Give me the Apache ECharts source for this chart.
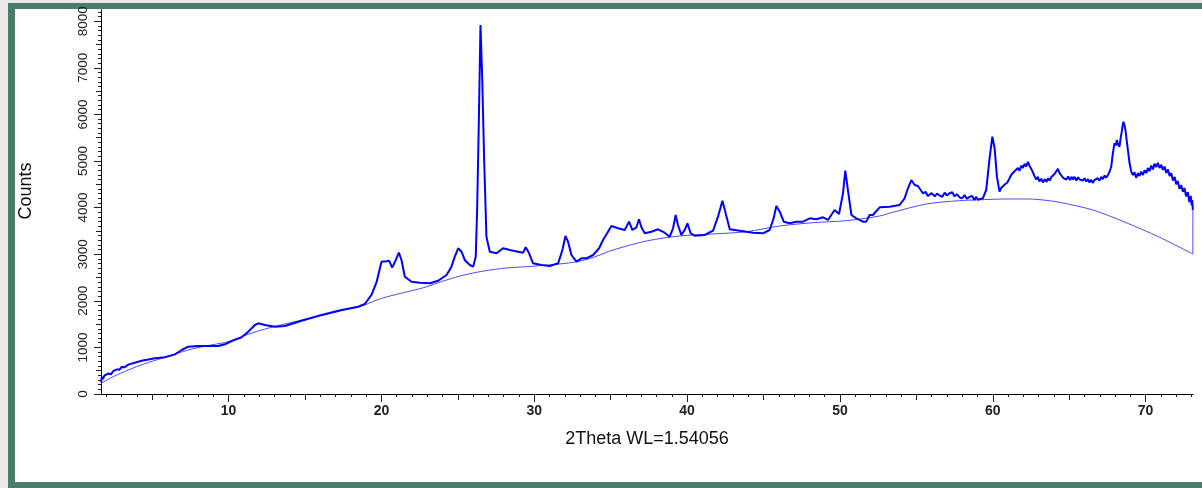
<!DOCTYPE html>
<html>
<head>
<meta charset="utf-8">
<title>XRD pattern</title>
<script src="https://cdn.jsdelivr.net/npm/echarts@6/dist/echarts.min.js"></script>
<style>
    html, body {
        margin: 0;
        padding: 0;
        width: 1202px;
        height: 488px;
        overflow: hidden;
        background: #ebe8e5;
    }
    .frame {
        position: absolute;
        left: 8px;
        top: 3px;
        width: 1194px;
        height: 485px;
        box-sizing: border-box;
        border-left: 7px solid #4a7c69;
        border-top: 6px solid #4a7c69;
        border-bottom: 6px solid #4a7c69;
        background: #ffffff;
    }
    #chart {
        position: absolute;
        left: 0;
        top: 0;
        width: 1202px;
        height: 488px;
    }
</style>
</head>
<body>
<div class="frame"></div>
<div id="chart"></div>
<script>
// measured scan (2theta, counts)
const scanTheta = [
    1.66, 1.7, 1.78, 1.88, 2.0, 2.15, 2.3, 2.45, 2.56, 2.7, 2.85, 3.0, 3.2, 3.43, 4.31, 5.18, 5.83,
    6.49, 6.93, 7.36, 8.01, 8.67, 9.32, 9.76,
    10.2, 10.85, 11.28, 11.72, 11.94, 12.37, 13.03, 13.68, 14.77, 16.08, 17.39, 18.48, 18.91, 19.35,
    19.68, 20.0, 20.33, 20.5, 20.7, 20.94, 21.14, 21.31, 21.53, 21.97, 22.51, 23.17, 23.71, 24.26,
    24.58, 24.8, 25.02, 25.24, 25.45, 25.78, 26.0, 26.17, 26.26, 26.37, 26.48, 26.59, 26.72, 26.87,
    27.09, 27.53, 27.96, 28.4, 28.94, 29.27, 29.44, 29.66, 29.92, 30.47, 31.01, 31.56, 31.84, 32.04,
    32.21, 32.43, 32.76, 33.09, 33.41, 33.85, 34.24, 34.5, 35.05, 35.48, 35.92, 36.2, 36.42, 36.68,
    36.85, 37.01, 37.23, 37.66, 38.1, 38.53, 38.86, 39.08, 39.25, 39.4, 39.62, 39.84, 40.02, 40.23,
    40.5, 41.15, 41.7, 42.02, 42.31, 42.52, 42.79, 43.44, 44.31, 44.96, 45.4, 45.66, 45.84, 46.06,
    46.32, 46.71, 47.15, 47.58, 48.02, 48.46, 48.89, 49.22, 49.65, 49.94, 50.2, 50.35, 50.52, 50.75,
    51.07, 51.5, 51.72, 51.94, 52.16, 52.6, 53.25, 53.9, 54.23, 54.45, 54.67, 54.89, 55.1,
    55.43, 55.6, 55.75, 55.87, 56.0, 56.2, 56.35, 56.52, 56.7, 56.85, 57.0, 57.17, 57.35, 57.5,
    57.65, 57.83, 58.0, 58.15, 58.3, 58.48, 58.65, 58.8, 58.9, 59.03, 59.15, 59.35, 59.57, 59.79,
    59.97, 60.12, 60.27, 60.44, 60.55, 60.66, 60.8, 60.95, 61.1, 61.2, 61.3, 61.42, 61.54, 61.65,
    61.75, 61.87, 61.97, 62.08, 62.18, 62.3, 62.4, 62.52, 62.62, 62.72, 62.85, 62.95, 63.05, 63.17,
    63.28, 63.4, 63.52, 63.62, 63.72, 63.85, 63.95, 64.04, 64.15, 64.26, 64.37, 64.48, 64.6, 64.7,
    64.81, 64.93, 65.05, 65.15, 65.25, 65.35, 65.47, 65.58, 65.7, 65.8, 65.89, 66.0, 66.12, 66.22,
    66.33, 66.43, 66.54, 66.65, 66.76, 66.87, 66.98, 67.1, 67.2, 67.32, 67.42, 67.53, 67.63, 67.75,
    67.85, 67.96, 68.04, 68.12, 68.2, 68.29, 68.37, 68.44, 68.5, 68.55, 68.62, 68.68, 68.76, 68.84,
    68.95, 69.06, 69.17, 69.27, 69.38, 69.5, 69.6, 69.71, 69.82, 69.93, 70.04, 70.15, 70.26, 70.37,
    70.48, 70.58, 70.69, 70.8, 70.91, 71.02, 71.13, 71.24, 71.35, 71.46, 71.57, 71.68, 71.79, 71.9,
    72.0, 72.1, 72.22, 72.33, 72.44, 72.54, 72.65, 72.76, 72.86, 72.95, 73.02, 73.05, 73.09
];
const scanCounts = [
    250, 370, 320, 400, 370, 440, 420, 490, 470, 530, 520, 580, 575, 630, 715, 766, 787,
    851, 944, 1015, 1030, 1030, 1030, 1066,
    1137, 1216, 1337, 1481, 1517, 1481, 1444, 1459, 1573, 1695, 1803, 1873, 1931, 2125,
    2400, 2839, 2850, 2861, 2711, 2876, 3032, 2876, 2517, 2410, 2389, 2375, 2431, 2554,
    2732, 2947, 3127, 3054, 2876, 2768, 2732, 2947, 3949, 5809, 7919, 6809, 5022, 3376,
    3054, 3019, 3127, 3090, 3054, 3032, 3148, 3019, 2804, 2768, 2747, 2804, 3090, 3391,
    3268, 2983, 2839, 2911, 2911, 2983, 3127, 3305, 3605, 3556, 3519, 3698, 3519, 3577,
    3749, 3577, 3448, 3483, 3534, 3462, 3376, 3556, 3841, 3627, 3412, 3519, 3663, 3448,
    3398, 3412, 3505, 3805, 4149, 3877, 3534, 3505, 3462, 3448, 3519, 3770, 4034, 3912,
    3698, 3663, 3698, 3698, 3770, 3749, 3791, 3734, 3949, 3863, 4307, 4793, 4378, 3841,
    3770, 3698, 3698, 3841, 3841, 4006, 4020, 4056, 4199, 4414, 4592, 4485, 4464,
    4307, 4340, 4250, 4290, 4310, 4240, 4300, 4260, 4230, 4320, 4260, 4307, 4330, 4240,
    4290, 4220, 4200, 4270, 4190, 4230, 4250, 4160, 4230, 4170, 4150, 4199, 4378, 5058,
    5522, 5273, 4664, 4342, 4420, 4380, 4500, 4540, 4629, 4700, 4660, 4780, 4760, 4850,
    4790, 4900, 4850, 4940, 4880, 4980, 4900, 4830, 4760, 4680, 4600, 4660, 4560, 4620,
    4540, 4610, 4550, 4630, 4580, 4660, 4640, 4720, 4760, 4830, 4740, 4700, 4640, 4680,
    4600, 4670, 4590, 4660, 4600, 4660, 4580, 4650, 4600, 4640, 4580, 4630, 4560, 4610,
    4540, 4600, 4530, 4590, 4560, 4630, 4580, 4660, 4610, 4690, 4640, 4700, 4760, 4878,
    5150, 5380, 5330, 5451, 5350, 5307, 5500, 5629, 5780, 5844, 5760, 5665, 5450, 5236,
    4950, 4771, 4700, 4760, 4640, 4740, 4680, 4770, 4700, 4800, 4740, 4850, 4780, 4900,
    4820, 4940, 4870, 4960, 4850, 4920, 4810, 4880, 4740, 4820, 4680, 4740, 4580, 4660,
    4500, 4570, 4400, 4480, 4340, 4420, 4240, 4330, 4120, 4250, 4050, 4160, 3949
];

// fitted background curve
const bgTheta = [
    1.66, 2.5, 3.43, 4.5, 5.62, 6.7, 7.8, 8.9, 9.97, 11.0, 12.16, 13.2, 14.34, 15.4, 16.51, 17.6,
    18.7, 19.8, 20.88, 21.9, 22.95, 24.0, 25.13, 26.2, 27.31, 28.4, 29.49, 30.6, 31.67, 32.8, 33.85,
    35.15, 37.34, 39.52, 41.7, 43.88, 46.06, 48.24, 50.42, 52.6, 53.47, 55.65, 57.83, 60.0, 61.1,
    62.19, 63.28, 64.37, 66.54, 68.73, 70.91, 73.09, 73.09
];
const bgCounts = [
    230, 380, 515, 650, 766, 880, 981, 1055, 1122, 1250, 1373, 1465, 1552, 1635, 1717, 1805,
    1888, 2030, 2130, 2210, 2300, 2420, 2530, 2610, 2670, 2710, 2732, 2760, 2790, 2840, 2930,
    3090, 3283, 3391, 3434, 3483, 3605, 3676, 3719, 3820, 3900, 4077, 4149, 4178, 4185,
    4185, 4163, 4113, 3949, 3676, 3363, 3004, 3949
];

// axis ticks
const xMinorTicks = [];
for (let t = 2; t <= 73; t++) xMinorTicks.push(t);
const xMidTicks = [5, 15, 25, 35, 45, 55, 65];
const xLabels = [10, 20, 30, 40, 50, 60, 70];
const yMinorTicks = [];
for (let c = 0; c <= 8200; c += 100) yMinorTicks.push(c);
const yMidTicks = [500, 1500, 2500, 3500, 4500, 5500, 6500, 7500];
const yLabels = [0, 1000, 2000, 3000, 4000, 5000, 6000, 7000, 8000];

const X_MIN = 1.65;
const X_MAX = 73.1;
const Y_MAX = 8240;

const chart = echarts.init(document.getElementById('chart'));

function xAxisLayer(ticks, len, labels) {
    return {
        type: 'value',
        min: X_MIN,
        max: X_MAX,
        position: 'bottom',
        axisLine: { show: !labels, lineStyle: { color: '#000', width: 1 } },
        axisTick: { show: true, customValues: ticks, length: len, lineStyle: { color: '#222', width: 1 } },
        axisLabel: labels ? {
            customValues: labels,
            formatter: v => String(v),
            color: '#222',
            fontFamily: 'Liberation Sans, Arial, sans-serif',
            fontWeight: 'bold',
            fontSize: 14,
            margin: 10
        } : { show: false },
        splitLine: { show: false }
    };
}

function yAxisLayer(ticks, len, labels) {
    return {
        type: 'value',
        min: 0,
        max: Y_MAX,
        position: 'left',
        axisLine: { show: !labels, lineStyle: { color: '#000', width: 1 } },
        axisTick: { show: true, customValues: ticks, length: len, lineStyle: { color: '#222', width: 1 } },
        axisLabel: labels ? {
            customValues: labels,
            formatter: v => String(v),
            rotate: 90,
            color: '#222',
            fontFamily: 'Liberation Sans, Arial, sans-serif',
            fontSize: 13.5,
            margin: 11
        } : { show: false },
        splitLine: { show: false }
    };
}

const option = {
    animation: false,
    grid: { left: 101, right: 9, top: 10, bottom: 94 },
    xAxis: [
        xAxisLayer(xMinorTicks, 3, null),
        xAxisLayer(xMidTicks, 6, null),
        Object.assign(xAxisLayer(xLabels, 8, xLabels), {
            name: '2Theta WL=1.54056',
            nameLocation: 'middle',
            nameGap: 36,
            nameTextStyle: { color: '#111', fontFamily: 'Liberation Sans, Arial, sans-serif', fontSize: 18 }
        })
    ],
    yAxis: [
        yAxisLayer(yMinorTicks, 3, null),
        yAxisLayer(yMidTicks, 5, null),
        yAxisLayer(yLabels, 7, yLabels)
    ],
    graphic: [{
        type: 'text',
        x: 26,
        y: 191,
        rotation: Math.PI / 2,
        style: {
            text: 'Counts',
            fill: '#111',
            font: '18px "Liberation Sans", Arial, sans-serif',
            textAlign: 'center',
            textVerticalAlign: 'middle'
        }
    }],
    series: [
        {
            name: 'background',
            type: 'line',
            showSymbol: false,
            smooth: 0.3,
            lineStyle: { color: '#4a4aff', width: 1 },
            data: bgTheta.map((t, i) => [t, bgCounts[i]])
        },
        {
            name: 'scan',
            type: 'line',
            showSymbol: false,
            lineStyle: { color: '#0000ff', width: 2 },
            data: scanTheta.map((t, i) => [t, scanCounts[i]])
        }
    ]
};

chart.setOption(option);
</script>
</body>
</html>
